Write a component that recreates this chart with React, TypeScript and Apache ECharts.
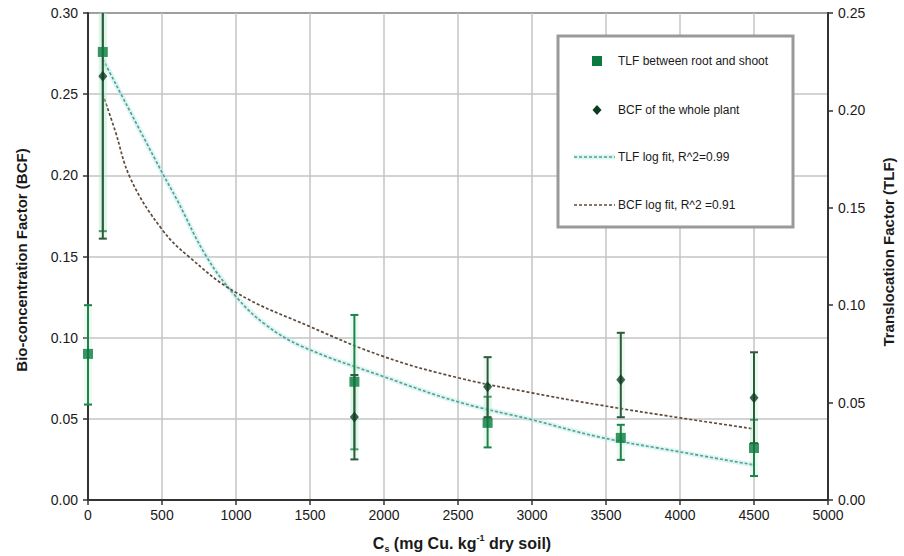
import React, { useEffect, useRef } from "react";
import * as echarts from "echarts";

// ---- data ----
const xTickValues = [0, 500, 1000, 1500, 2000, 2500, 3000, 3500, 4000, 4500, 5000];

// TLF between root and shoot (right axis)
const tlfX = [0, 100, 1800, 2700, 3600, 4500];
const tlfValues = [0.075, 0.23, 0.0607, 0.0396, 0.0319, 0.0267];
const tlfLow = [0.049, 0.138, 0.026, 0.027, 0.0206, 0.0123];
const tlfHigh = [0.1, 0.322, 0.095, 0.053, 0.0386, 0.0412];

// BCF of the whole plant (left axis)
const bcfX = [100, 1800, 2700, 3600, 4500];
const bcfValues = [0.261, 0.0512, 0.0698, 0.074, 0.063];
const bcfLow = [0.161, 0.025, 0.051, 0.051, 0.035];
const bcfHigh = [0.361, 0.077, 0.088, 0.103, 0.091];

// fitted curves as drawn in the reference
const tlfFitX = [100, 500, 600, 800, 1000, 1200, 1450, 2000, 2500, 3000, 3450, 4000, 4500];
const tlfFitY = [0.2263, 0.1682, 0.1543, 0.125, 0.1044, 0.09, 0.0787, 0.0633, 0.0504, 0.0412, 0.0324, 0.0247, 0.018];
const bcfFitX = [100, 180, 290, 500, 680, 1000, 1500, 2000, 2500, 3000, 3450, 4000, 4500];
const bcfFitY = [0.25, 0.2284, 0.1975, 0.1667, 0.15, 0.1278, 0.1068, 0.0883, 0.0753, 0.066, 0.0586, 0.0506, 0.0438];

const legendLabels = [
  "TLF between root and shoot",
  "BCF of the whole plant",
  "TLF log fit, R^2=0.99",
  "BCF log fit, R^2 =0.91",
];

const FONT = "'Liberation Sans', Arial, sans-serif";
const BCF_MAX = 0.3;
const TLF_MAX = 0.25;

function errorRenderer(color: string, axisMax: number) {
  return (params: any, api: any) => {
    const x = api.value(0);
    const lo = api.value(1);
    const hi = api.value(2);
    const hiC = Math.min(hi, axisMax);
    const pLo = api.coord([x, lo]);
    const pHi = api.coord([x, hiC]);
    const cap = 4;
    const stroke = { stroke: color, lineWidth: 2 };
    const children: any[] = [
      {
        type: "line",
        shape: { x1: pLo[0], y1: pLo[1], x2: pHi[0], y2: pHi[1] },
        style: { stroke: "rgba(180,235,205,0.25)", lineWidth: 8 },
      },
      {
        type: "line",
        shape: { x1: pLo[0], y1: pLo[1], x2: pHi[0], y2: pHi[1] },
        style: stroke,
      },
      {
        type: "line",
        shape: { x1: pLo[0] - cap, y1: pLo[1], x2: pLo[0] + cap, y2: pLo[1] },
        style: stroke,
      },
    ];
    if (hi <= axisMax) {
      children.push({
        type: "line",
        shape: { x1: pHi[0] - cap, y1: pHi[1], x2: pHi[0] + cap, y2: pHi[1] },
        style: stroke,
      });
    }
    return { type: "group", children };
  };
}

export default function App() {
  const ref = useRef<HTMLDivElement>(null);

  useEffect(() => {
    if (!ref.current) return;
    const chart = echarts.init(ref.current, null, { renderer: "svg" });

    const tlfPoints = tlfX.map((x, i) => [x, tlfValues[i]]);
    const bcfPoints = bcfX.map((x, i) => [x, bcfValues[i]]);
    const tlfErr = tlfX.map((x, i) => [x, tlfLow[i], tlfHigh[i]]);
    const bcfErr = bcfX.map((x, i) => [x, bcfLow[i], bcfHigh[i]]);
    const tlfFit = tlfFitX.map((x, i) => [x, tlfFitY[i]]);
    const bcfFit = bcfFitX.map((x, i) => [x, bcfFitY[i]]);

    const labelStyle = { fontFamily: FONT, fontSize: 14, color: "#1a1a1a" };
    const legendText = { fontFamily: FONT, fontSize: 12, fill: "#1a1a1a" };
    const glow = "rgba(175,235,228,0.45)";

    chart.setOption({
      animation: false,
      backgroundColor: "#fff",
      grid: {
        left: 88,
        right: 76,
        top: 13,
        bottom: 56,
        show: true,
        borderColor: "#333",
        borderWidth: 2,
        backgroundColor: "transparent",
      },
      xAxis: {
        type: "value",
        min: xTickValues[0],
        max: xTickValues[xTickValues.length - 1],
        interval: 500,
        axisLine: { show: true, lineStyle: { color: "#333", width: 2 } },
        axisTick: { show: true, length: 5, lineStyle: { color: "#333", width: 1.5 } },
        axisLabel: { ...labelStyle, margin: 8, formatter: (v: number) => String(v) },
        splitLine: { show: true, lineStyle: { color: "#c4c4c4", width: 1.5 } },
      },
      yAxis: [
        {
          type: "value",
          min: 0,
          max: BCF_MAX,
          interval: 0.05,
          position: "left",
          axisLine: { show: true, lineStyle: { color: "#333", width: 2 } },
          axisTick: { show: true, length: 5, lineStyle: { color: "#333", width: 1.5 } },
          axisLabel: { ...labelStyle, margin: 10, formatter: (v: number) => v.toFixed(2) },
          splitLine: { show: true, lineStyle: { color: "#c4c4c4", width: 1.5 } },
        },
        {
          type: "value",
          min: 0,
          max: TLF_MAX,
          interval: 0.05,
          position: "right",
          axisLine: { show: true, lineStyle: { color: "#333", width: 2 } },
          axisTick: { show: true, length: 5, lineStyle: { color: "#333", width: 1.5 } },
          axisLabel: { ...labelStyle, margin: 10, formatter: (v: number) => v.toFixed(2) },
          splitLine: { show: false },
        },
      ],
      series: [
        {
          name: "TLF fit glow",
          type: "line",
          yAxisIndex: 1,
          data: tlfFit,
          smooth: 0.4,
          showSymbol: false,
          silent: true,
          lineStyle: { color: glow, width: 5 },
          z: 2,
        },
        {
          name: legendLabels[2],
          type: "line",
          yAxisIndex: 1,
          data: tlfFit,
          smooth: 0.4,
          showSymbol: false,
          lineStyle: { color: "#5a9a94", width: 1.6, type: [3, 2] },
          z: 3,
        },
        {
          name: legendLabels[3],
          type: "line",
          yAxisIndex: 0,
          data: bcfFit,
          smooth: 0.4,
          showSymbol: false,
          lineStyle: { color: "#5e4a3a", width: 1.7, type: [3, 2] },
          z: 3,
        },
        {
          name: "TLF error",
          type: "custom",
          yAxisIndex: 1,
          data: tlfErr,
          encode: { x: 0, y: [1, 2] },
          renderItem: errorRenderer("#1d8448", TLF_MAX),
          z: 4,
        },
        {
          name: "BCF error",
          type: "custom",
          yAxisIndex: 0,
          data: bcfErr,
          encode: { x: 0, y: [1, 2] },
          renderItem: errorRenderer("#2f5a3d", BCF_MAX),
          z: 4,
        },
        {
          name: legendLabels[0],
          type: "scatter",
          yAxisIndex: 1,
          data: tlfPoints,
          symbol: "rect",
          symbolSize: 10,
          itemStyle: { color: "#0b7a3e" },
          z: 6,
        },
        {
          name: legendLabels[1],
          type: "scatter",
          yAxisIndex: 0,
          data: bcfPoints,
          symbol: "diamond",
          symbolSize: [9, 11],
          itemStyle: { color: "#0d3b22" },
          z: 6,
        },
      ],
      graphic: [
        // axis titles
        {
          type: "text",
          x: 21,
          y: 260,
          rotation: Math.PI / 2,
          style: {
            text: "Bio-concentration Factor (BCF)",
            fontFamily: FONT,
            fontSize: 15,
            fontWeight: "bold",
            fill: "#1a1a1a",
            align: "center",
            verticalAlign: "middle",
          },
        },
        {
          type: "text",
          x: 888,
          y: 252,
          rotation: Math.PI / 2,
          style: {
            text: "Translocation Factor (TLF)",
            fontFamily: FONT,
            fontSize: 15,
            fontWeight: "bold",
            fill: "#1a1a1a",
            align: "center",
            verticalAlign: "middle",
          },
        },
        {
          type: "text",
          x: 462,
          y: 543,
          style: {
            text: "{b|C}{sub|s}{b| (mg Cu. kg}{sup|-1}{b| dry soil)}",
            align: "center",
            verticalAlign: "middle",
            fill: "#1a1a1a",
            rich: {
              b: { fontFamily: FONT, fontSize: 16, fontWeight: "bold", lineHeight: 20 },
              sub: {
                fontFamily: FONT,
                fontSize: 9,
                fontWeight: "bold",
                verticalAlign: "bottom",
                lineHeight: 14,
              },
              sup: {
                fontFamily: FONT,
                fontSize: 9,
                fontWeight: "bold",
                verticalAlign: "top",
                lineHeight: 14,
              },
            },
          },
        },
        // legend box
        {
          type: "rect",
          shape: { x: 558, y: 36, width: 235, height: 191 },
          style: { fill: "#fff", stroke: "#9a9a9a", lineWidth: 3 },
          z: 10,
        },
        {
          type: "rect",
          shape: { x: 592, y: 56, width: 10, height: 10 },
          style: { fill: "#0b7a3e" },
          z: 11,
        },
        {
          type: "text",
          x: 618,
          y: 61,
          style: { ...legendText, text: legendLabels[0], verticalAlign: "middle" },
          z: 11,
        },
        {
          type: "polygon",
          shape: { points: [[597, 105], [601.5, 110], [597, 115], [592.5, 110]] },
          style: { fill: "#0d3b22" },
          z: 11,
        },
        {
          type: "text",
          x: 618,
          y: 110,
          style: { ...legendText, text: legendLabels[1], verticalAlign: "middle" },
          z: 11,
        },
        {
          type: "line",
          shape: { x1: 574, y1: 157, x2: 615, y2: 157 },
          style: { stroke: glow, lineWidth: 5 },
          z: 11,
        },
        {
          type: "line",
          shape: { x1: 574, y1: 157, x2: 615, y2: 157 },
          style: { stroke: "#5a9a94", lineWidth: 1.6, lineDash: [3, 2] },
          z: 11,
        },
        {
          type: "text",
          x: 618,
          y: 157,
          style: { ...legendText, text: legendLabels[2], verticalAlign: "middle" },
          z: 11,
        },
        {
          type: "line",
          shape: { x1: 574, y1: 205, x2: 615, y2: 205 },
          style: { stroke: "#5e4a3a", lineWidth: 1.7, lineDash: [3, 2] },
          z: 11,
        },
        {
          type: "text",
          x: 618,
          y: 205,
          style: { ...legendText, text: legendLabels[3], verticalAlign: "middle" },
          z: 11,
        },
      ],
    });

    return () => chart.dispose();
  }, []);

  return (
    <div
      ref={ref}
      style={{ position: "fixed", left: 0, top: 0, width: 904, height: 556, background: "#fff" }}
    />
  );
}
